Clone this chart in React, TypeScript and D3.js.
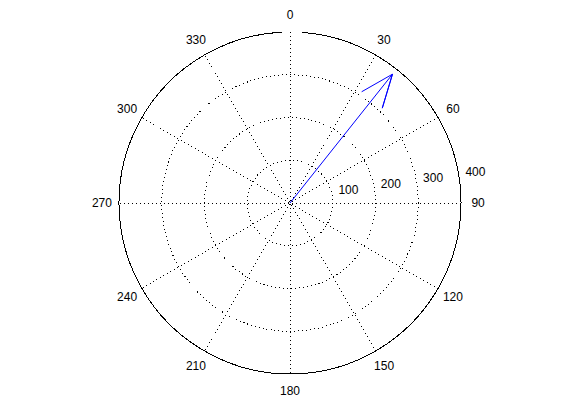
import React from 'react';
import * as d3 from 'd3';

// compass plot: one vector, 0 deg at top, clockwise
const ringValues = [100, 200, 300];
const rMax = 400;
const angleTicks = [0, 30, 60, 90, 120, 150, 180, 210, 240, 270, 300, 330];
const spokeAngles = [0, 30, 60, 90, 120, 150];
const vectorAngle = [38.5];
const vectorMagnitude = [385];

const width = 561;
const height = 420;
const cx = 290;
const cy = 203;
const R = 171;
const font = '"Liberation Sans", Arial, sans-serif';

export default function App() {
    const r = d3.scaleLinear().domain([0, rMax]).range([0, R]);
    const rad = (deg: number) => (deg * Math.PI) / 180;
    // screen coords for angle measured clockwise from top
    const pt = (deg: number, dist: number): [number, number] => [
        cx + dist * Math.sin(rad(deg)),
        cy - dist * Math.cos(rad(deg))
    ];

    // outer circle with the small gap at the top
    const outer = d3.arc()({
        innerRadius: R,
        outerRadius: R,
        startAngle: rad(3.9),
        endAngle: rad(360 - 2.8)
    } as any);

    const line = d3.line();
    const arrows = vectorAngle.map((a, i) => {
        const len = r(vectorMagnitude[i]);
        const along = [0, 1, 0.8, 1, 0.8];
        const perp = [0, 0, 0.08, 0, -0.08];
        const ux = Math.sin(rad(a));
        const uy = -Math.cos(rad(a));
        const pts: [number, number][] = along.map((t, j) => [
            cx + len * (t * ux - perp[j] * uy),
            cy + len * (t * uy + perp[j] * ux)
        ]);
        return line(pts);
    });

    const labelAngle = 82; // range labels sit just above the 90 spoke
    return (
        <svg
            width={width}
            height={height}
            style={{ position: 'absolute', left: 0, top: 0, background: '#fff' }}
        >
            <g fill="none" stroke="#000" shapeRendering="crispEdges">
                {spokeAngles.map(a => {
                    const [x1, y1] = pt(a, R);
                    const [x2, y2] = pt(a + 180, R);
                    return (
                        <line key={a} x1={x1} y1={y1} x2={x2} y2={y2}
                            strokeDasharray="1 3" strokeWidth={1} />
                    );
                })}
                {ringValues.map(v => (
                    <circle key={v} cx={cx} cy={cy} r={r(v)}
                        strokeDasharray="1 3" strokeWidth={1} />
                ))}
                <path d={outer || ''} transform={`translate(${cx},${cy})`} strokeWidth={1} />
            </g>

            <g fontFamily={font} fontSize={12} fill="#000">
                {angleTicks.map(a => {
                    const [x, y] = pt(a, R * 1.1);
                    return (
                        <text key={a} x={x} y={y} textAnchor="middle" dy="0.35em">{a}</text>
                    );
                })}
                {[...ringValues, rMax].map(v => {
                    const [x, y] = pt(labelAngle, r(v + 100 / 20));
                    return (
                        <text key={v} x={x + 4} y={y - 2.5}>{v}</text>
                    );
                })}
            </g>

            <g fill="none" stroke="#0000ff" strokeWidth={1}>
                {arrows.map((d, i) => <path key={i} d={d || ''} />)}
            </g>
        </svg>
    );
}
